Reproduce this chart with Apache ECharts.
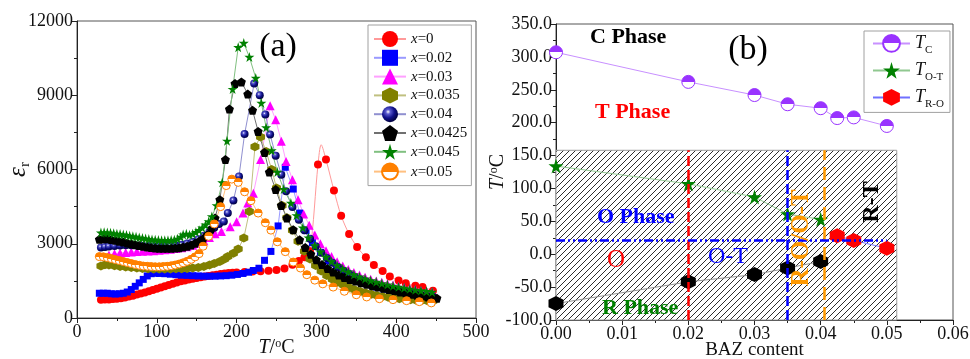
<!DOCTYPE html>
<html><head><meta charset="utf-8">
<script src="https://cdn.jsdelivr.net/npm/echarts@6/dist/echarts.min.js"></script>
<style>html,body{margin:0;padding:0;background:#fff}#c{width:970px;height:359px}</style>
</head><body><div id="c"></div>
<script>
const FONT = '"Liberation Serif","Times New Roman",serif';

// ---------- Panel (a): eps_r vs T (°C) ----------
const namesA = ['x=0','x=0.02','x=0.03','x=0.035','x=0.04','x=0.0425','x=0.045','x=0.05'];
const xTicksA = [0,100,200,300,400,500];
const yTicksA = [0,3000,6000,9000,12000];

const eps_x0 = [[30,740],[35,745],[40,750],[45,765],[50,780],[55,800],[60,830],[65,865],[70,900],[75,945],[80,990],[85,1035],[90,1080],[95,1130],[100,1180],[105,1230],[110,1280],[115,1330],[120,1380],[125,1430],[130,1480],[135,1520],[140,1560],[145,1590],[150,1620],[155,1650],[160,1680],[165,1700],[170,1730],[175,1750],[180,1780],[185,1800],[190,1820],[195,1830],[200,1840],[210,1860],[220,1880],[230,1890],[240,1910],[250,1940],[260,2000],[270,2150],[278,2300],[285,2450],[292,2700],[302,6200],{value:[306,7000],symbol:'none'},[312,6400],[322,5150],[331,4130],[341,3390],[351,2870],[362,2450],[372,2140],[383,1900],[392,1680],[403,1520],[412,1400],[424,1300],[433,1250],[446,1100]];
const eps_x002 = [[28,1000],[33,1000],[38,1000],[43,980],[48,970],[53,980],[58,1000],[63,1050],[68,1150],[73,1280],[78,1420],[83,1560],[88,1700],[93,1790],[98,1810],[103,1800],[110,1790],[117,1770],[124,1750],[131,1730],[138,1720],[145,1710],[152,1700],[159,1690],[166,1690],[173,1690],[180,1700],[187,1710],[194,1730],[201,1760],[208,1800],[215,1850],[221,1920],[228,2010],[235,2330],[243,2690],[252,3720],[261,6090],[271,5210],[279,4240],[287,3530],[295,3050],[305,2650],[315,2300],[325,2050],[335,1820],[345,1640],[355,1490],[365,1360],[375,1250],[385,1160],[395,1080],[405,1020],[415,970],[425,920],[435,880],[445,850]];
const eps_x003 = [[40,2550],[47,2600],[54,2630],[61,2650],[68,2670],[75,2690],[82,2700],[89,2710],[96,2720],[103,2740],[110,2760],[117,2780],[124,2810],[131,2840],[138,2880],[145,2940],[152,3020],[159,3120],[166,3250],[173,3400],[181,3500],[192,3690],[200,3890],[208,4240],[214,4650],[221,5040],[230,6400],[242,8580],[249,8010],[256,7140],[262,6320],[270,5590],[277,4780],[284,4200],[291,3750],[298,3350],[305,3000],[312,2720],[319,2480],[326,2270],[333,2100],[340,1960],[347,1840],[354,1740],[361,1650],[368,1570],[375,1500],[382,1440],[389,1380],[396,1330],[403,1280],[410,1230],[417,1190],[424,1150],[431,1110],[438,1080],[445,1050]];
const eps_x0035 = [[30,2100],[35,2150],[40,2140],[47,2110],[54,2080],[61,2060],[68,2040],[75,2020],[82,2000],[89,1990],[96,1980],[103,1980],[110,1980],[117,1980],[124,1985],[131,1990],[138,2000],[145,2020],[152,2040],[159,2080],[166,2140],[172,2200],[179,2280],[185,2380],[189,2480],[196,2620],[202,2790],[209,3230],[216,4300],[223,6920],[230,7310],[237,6730],[244,6000],[250,5250],[257,4550],[263,4050],[270,3550],[277,3100],[285,2700],[292,2380],[299,2120],[306,1900],[313,1720],[320,1570],[327,1440],[334,1330],[341,1230],[348,1140],[355,1070],[362,1010],[369,960],[376,910],[383,870],[390,840],[397,810],[404,780],[411,760],[418,740],[425,720],[432,710],[439,700],[446,690]];
const eps_x004 = [[30,2850],[35,2870],[40,2890],[47,2910],[54,2930],[61,2940],[68,2940],[75,2930],[82,2920],[89,2910],[96,2900],[103,2890],[110,2890],[117,2900],[124,2920],[131,2960],[138,3010],[145,3080],[152,3180],[159,3320],[166,3480],[172,3650],[178,3800],[184,3900],[189,4240],[196,4750],[203,5720],[210,7430],[222,9470],[229,9000],[236,8220],[242,7410],[249,6560],[256,5790],[262,5120],[270,4480],[278,3970],[285,3550],[292,3200],[299,2900],[306,2640],[313,2420],[320,2230],[327,2060],[334,1910],[341,1780],[348,1660],[355,1560],[362,1470],[369,1390],[376,1320],[383,1250],[390,1190],[397,1130],[404,1080],[411,1030],[418,990],[425,950],[432,910],[439,880],[446,850]];
const eps_x00425 = [[28,3180],[33,3200],[38,3200],[43,3170],[48,3140],[53,3100],[58,3070],[63,3030],[68,3000],[73,2960],[78,2930],[83,2900],[88,2870],[93,2850],[98,2830],[103,2820],[108,2820],[113,2820],[118,2820],[123,2830],[128,2840],[133,2870],[138,2900],[143,2950],[148,3020],[153,3100],[158,3200],[163,3350],[168,3600],[173,4040],[179,4780],[186,6400],[191,8440],[198,9470],[206,9540],[214,9050],[220,8390],[227,7540],[235,6690],[241,5900],[249,5190],[256,4550],[263,4040],[271,3570],[279,3160],[286,2850],[293,2580],[300,2350],[307,2160],[314,2000],[321,1860],[328,1740],[335,1640],[342,1560],[349,1490],[356,1420],[363,1360],[370,1300],[377,1250],[384,1200],[391,1150],[398,1100],[405,1050],[412,1000],[419,960],[426,920],[433,885],[440,850],[447,820],[451,800]];
const eps_x0045 = [[30,3450],[34,3460],[38,3450],[42,3440],[46,3420],[50,3400],[54,3390],[58,3370],[62,3350],[66,3320],[70,3300],[74,3280],[78,3250],[82,3230],[86,3210],[90,3190],[94,3170],[98,3160],[102,3150],[106,3140],[110,3140],[114,3140],[118,3150],[122,3160],[126,3200],[130,3280],[133,3370],[137,3400],[141,3360],[145,3400],[149,3470],[153,3550],[157,3650],[161,3770],[165,3900],[169,4100],[175,4550],[182,5480],[188,7160],[195,9250],[202,10940],[209,11110],[216,10545],[224,9700],[231,8690],[237,7700],[244,6770],[251,5900],[259,5210],[268,4650],[275,4150],[283,3650],[290,3250],[298,2930],[305,2680],[312,2470],[319,2290],[326,2130],[333,1990],[340,1870],[347,1760],[354,1670],[361,1590],[368,1520],[375,1460],[382,1400],[389,1350],[396,1300],[403,1260],[410,1220],[417,1180],[424,1140],[431,1110],[438,1080],[445,1050]];
const eps_x005 = [[28,2480],[33,2470],[38,2440],[43,2400],[48,2360],[53,2320],[58,2280],[63,2240],[68,2200],[73,2160],[78,2130],[83,2100],[88,2090],[93,2080],[98,2070],[103,2070],[108,2080],[113,2090],[118,2110],[123,2140],[128,2180],[133,2230],[138,2290],[143,2370],[148,2470],[153,2600],[158,2900],[165,3300],[172,3800],[180,4500],[187,5350],[194,5610],[202,5480],[210,5100],[218,4740],[227,4240],[236,3850],[243,3550],[251,3080],[261,2680],[271,2260],[280,2020],[288,1750],[298,1530],[308,1380],[321,1250],[335,1080],[350,940],[363,850],[379,780],[396,740],[413,700],[429,660],[444,610]];

// ---------- Panel (b): phase diagram ----------
const bazTc = [0,0.02,0.03,0.035,0.04,0.0425,0.045,0.05];
const tC = [307,262,242,228,222,207,208,195];
const bazOT = [0,0.02,0.03,0.035,0.04];
const tOT = [134,107,87,61,53];
const bazRO = [0.0425,0.045,0.05];
const tRO = [28,21,9];
const bazRlow = [0,0.02,0.03,0.035,0.04];
const tRlow = [-75,-42,-31,-21,-11];
const boundaryX = [0.02,0.035,0.0405];
const hatchX = [0,0.0515];
const hatchY = [-100,158];
const roomT = 22;
const roomX = [0,0.05];
const xTicksB = [0,0.01,0.02,0.03,0.04,0.05,0.06];
const yTicksB = [-100,-50,0,50,100,150,200,250,300,350];

function zip(xs, ys){ return xs.map((x,i)=>[x, ys[i]]); }

const STAR = 'path://M50,0 L61,35 L98,35 L68,57 L79,91 L50,70 L21,91 L32,57 L2,35 L39,35 Z';
const PENT = 'path://M50,0 L100,38 L81,100 L19,100 L0,38 Z';
const HEX = 'path://M50,0 L93,25 L93,75 L50,100 L7,75 L7,25 Z';
function half(col){ return {type:'linear',x:0,y:0,x2:0,y2:1,colorStops:[{offset:0,color:col},{offset:0.5,color:col},{offset:0.5,color:'#fff'},{offset:1,color:'#fff'}]}; }
const SPHERE = {type:'radial',x:0.38,y:0.35,r:0.65,colorStops:[{offset:0,color:'#ffffff'},{offset:0.22,color:'#5a5ad0'},{offset:0.6,color:'#10108a'},{offset:1,color:'#000040'}]};

function hatchCanvas(){
  const s = 6, c = document.createElement('canvas'); c.width = s; c.height = s;
  const g = c.getContext('2d');
  g.fillStyle = '#fff'; g.fillRect(0,0,s,s);
  g.strokeStyle = '#222'; g.lineWidth = 0.95;
  g.beginPath();
  g.moveTo(-1, s+1); g.lineTo(s+1, -1);
  g.moveTo(-1, 1); g.lineTo(1, -1);
  g.moveTo(s-1, s+1); g.lineTo(s+1, s-1);
  g.stroke();
  return c;
}

const stylesA = [
  {sym:'circle', size:8, color:'#ff0000', line:'#ff9a9a'},
  {sym:'rect', size:7, color:'#0000ff', line:'#9a9aff'},
  {sym:'triangle', size:9, color:'#ff00ff', line:'#ffa0ff'},
  {sym:HEX, size:9, color:'#808000', line:'#c0c080'},
  {sym:'circle', size:8, color:SPHERE, line:'#9090d0'},
  {sym:PENT, size:9, color:'#000000', line:'#707070'},
  {sym:STAR, size:10, color:'#008000', line:'#80c080'},
  {sym:'circle', size:8, color:half('#ff8000'), line:'#ffc080', border:'#ff8000'}
];
const dataA = [eps_x0, eps_x002, eps_x003, eps_x0035, eps_x004, eps_x00425, eps_x0045, eps_x005];

const seriesA = namesA.map((n,i)=>({
  name:n, type:'line', xAxisIndex:0, yAxisIndex:0, data:dataA[i],
  symbol:stylesA[i].sym, symbolSize:stylesA[i].size, smooth: i===0 ? 0.3 : false,
  itemStyle:{color:stylesA[i].color, borderColor:stylesA[i].border || null, borderWidth: stylesA[i].border ? 1 : 0},
  lineStyle:{color:stylesA[i].line, width:1}, z:3
}));

const hatch = hatchCanvas();
const seriesB = [
  { name:'hatch', type:'line', xAxisIndex:1, yAxisIndex:1, data:[], z:1, silent:true,
    markArea:{ silent:true, itemStyle:{color:{image:hatch, repeat:'repeat'}, borderColor:'#9a9a9a', borderWidth:1},
      data:[[{coord:[hatchX[0],hatchY[0]]},{coord:[hatchX[1],hatchY[1]]}]] },
    markLine:{ silent:true, symbol:['none','none'], label:{show:false}, animation:false,
      data:[
        [{coord:[boundaryX[0],hatchY[0]], lineStyle:{color:'#ff0000', width:2.5, type:[10,4]}},{coord:[boundaryX[0],hatchY[1]]}],
        [{coord:[boundaryX[1],hatchY[0]], lineStyle:{color:'#0000ff', width:2.5, type:[10,4]}},{coord:[boundaryX[1],hatchY[1]]}],
        [{coord:[boundaryX[2],hatchY[0]], lineStyle:{color:'#ff9900', width:2.5, type:[13,7]}},{coord:[boundaryX[2],hatchY[1]]}],
        [{coord:[roomX[0],roomT], lineStyle:{color:'#0000ff', width:2.5, type:[9,3,2,3,2,3]}},{coord:[roomX[1],roomT]}]
      ] } },
  { name:'T_C', type:'line', xAxisIndex:1, yAxisIndex:1, data:zip(bazTc,tC), symbol:'circle', symbolSize:13, z:4,
    itemStyle:{color:half('#9933ff'), borderColor:'#9933ff', borderWidth:1}, lineStyle:{color:'#c890ff', width:1} },
  { name:'T_O-T', type:'line', xAxisIndex:1, yAxisIndex:1, data:zip(bazOT,tOT), symbol:STAR, symbolSize:15, z:4,
    itemStyle:{color:'#008000'}, lineStyle:{color:'#90c890', width:1} },
  { name:'T_R-O', type:'line', xAxisIndex:1, yAxisIndex:1, data:zip(bazRO,tRO), symbol:HEX, symbolSize:15, z:4,
    itemStyle:{color:'#ff0000'}, lineStyle:{color:'#7070ff', width:1} },
  { name:'T_R-O low', type:'line', xAxisIndex:1, yAxisIndex:1, data:zip(bazRlow,tRlow), symbol:HEX, symbolSize:15, z:4,
    itemStyle:{color:'#000000'}, lineStyle:{color:'#909090', width:1} }
];

const axisCommon = {
  axisLine:{show:true, onZero:false, lineStyle:{color:'#222', width:1}},
  axisTick:{show:true, length:5, lineStyle:{color:'#222'}},
  minorTick:{show:true, splitNumber:2, length:3, lineStyle:{color:'#222'}},
  splitLine:{show:false},
  nameMoveOverlap:false,
  axisLabel:{fontFamily:FONT, fontSize:18, color:'#111'}
};
const nameRich = {
  i:{fontFamily:FONT, fontSize:20, fontStyle:'italic', color:'#111', lineHeight:20, verticalAlign:'top'},
  n:{fontFamily:FONT, fontSize:20, color:'#111', lineHeight:20, verticalAlign:'top'},
  o:{fontFamily:FONT, fontSize:12, color:'#111', lineHeight:12, verticalAlign:'top'},
  e:{fontFamily:FONT, fontSize:25, fontStyle:'italic', color:'#111', lineHeight:25, verticalAlign:'top'},
  s:{fontFamily:FONT, fontSize:15, color:'#111', lineHeight:15, padding:[12,0,0,0], verticalAlign:'top'}
};
const TdegC = '{i|T}{n|/}{o|o}{n|C}';

const option = {
  animation:false,
  backgroundColor:'#fff',
  grid:[
    {left:77, top:21, width:399, height:297, show:true, borderColor:'#555', borderWidth:1, containLabel:false, outerBoundsMode:'none'},
    {left:556, top:24, width:397, height:296, show:true, borderColor:'#555', borderWidth:1, containLabel:false, outerBoundsMode:'none'}
  ],
  xAxis:[
    Object.assign({}, axisCommon, {type:'value', gridIndex:0, min:xTicksA[0], max:xTicksA[xTicksA.length-1], interval:100,
      axisLabel:Object.assign({}, axisCommon.axisLabel, {margin:5, formatter:v=>String(v)}),
      name:TdegC, nameLocation:'middle', nameGap:20, nameTextStyle:{rich:nameRich}}),
    Object.assign({}, axisCommon, {type:'value', gridIndex:1, min:xTicksB[0], max:xTicksB[xTicksB.length-1], interval:0.01,
      axisLabel:Object.assign({}, axisCommon.axisLabel, {margin:5, formatter:v=>v.toFixed(2)}),
      name:'BAZ content', nameLocation:'middle', nameGap:21, nameTextStyle:{fontFamily:FONT, fontSize:19, color:'#111'}})
  ],
  yAxis:[
    Object.assign({}, axisCommon, {type:'value', gridIndex:0, min:yTicksA[0], max:yTicksA[yTicksA.length-1], interval:3000,
      axisLabel:Object.assign({}, axisCommon.axisLabel, {margin:4, formatter:v=>String(v)}),
      name:'{e|ε}{s|r}', nameLocation:'middle', nameGap:46, nameTextStyle:{rich:nameRich}}),
    Object.assign({}, axisCommon, {type:'value', gridIndex:1, min:yTicksB[0], max:yTicksB[yTicksB.length-1], interval:50,
      axisLabel:Object.assign({}, axisCommon.axisLabel, {margin:4, formatter:v=>v.toFixed(1)}),
      name:TdegC, nameLocation:'middle', nameGap:48, nameTextStyle:{rich:nameRich}})
  ],
  legend:[
    { data:namesA, orient:'vertical', left:368, top:25, itemWidth:32, itemHeight:20, itemGap:2.8,
      padding:[6,4,5,5], borderColor:'#a0a0a0', borderWidth:1, backgroundColor:'#fff',
      formatter:n=>'{i|x}{n|'+n.slice(1)+'}',
      textStyle:{fontFamily:FONT, fontSize:15, color:'#111', lineHeight:16,
        rich:{i:{fontFamily:FONT, fontSize:15, fontStyle:'italic', lineHeight:16}, n:{fontFamily:FONT, fontSize:15, lineHeight:16}}} },
    { data:['T_C','T_O-T','T_R-O'], orient:'vertical', left:864, top:31, itemWidth:37, itemHeight:21, itemGap:6,
      padding:[3,6,3,8], borderColor:'#a0a0a0', borderWidth:1, backgroundColor:'#fff',
      formatter:n=>'{t|T}{s|'+n.slice(2)+'}',
      textStyle:{fontFamily:FONT, fontSize:18, color:'#111',
        rich:{t:{fontFamily:FONT, fontSize:18, fontStyle:'italic', lineHeight:18, verticalAlign:'top'},
              s:{fontFamily:FONT, fontSize:11, lineHeight:11, padding:[10,0,0,0], verticalAlign:'top'}}} }
  ],
  graphic:[
    {type:'text', x:278, y:47, style:{text:'(a)', fontFamily:FONT, fontSize:34, fill:'#000', align:'center', verticalAlign:'middle'}},
    {type:'text', x:748, y:50, style:{text:'(b)', fontFamily:FONT, fontSize:34, fill:'#000', align:'center', verticalAlign:'middle'}},
    {type:'text', x:590, y:37, style:{text:'C Phase', fontFamily:FONT, fontSize:22, fontWeight:'bold', fill:'#000', align:'left', verticalAlign:'middle'}},
    {type:'text', x:595, y:112, style:{text:'T Phase', fontFamily:FONT, fontSize:22, fontWeight:'bold', fill:'#ff0000', align:'left', verticalAlign:'middle'}},
    {type:'text', x:597, y:217, z:10, style:{text:'O Phase', fontFamily:FONT, fontSize:22, fontWeight:'bold', fill:'#0000ff', align:'left', verticalAlign:'middle'}},
    {type:'text', x:616, y:260, z:10, style:{text:'O', fontFamily:FONT, fontSize:25, fill:'#ff0000', align:'center', verticalAlign:'middle'}},
    {type:'text', x:708, y:257, z:10, style:{text:'O-T', fontFamily:FONT, fontSize:24, fill:'#0000ff', align:'left', verticalAlign:'middle'}},
    {type:'text', x:602, y:308, z:10, style:{text:'R Phase', fontFamily:FONT, fontSize:22, fontWeight:'bold', fill:'#008000', align:'left', verticalAlign:'middle'}},
    {type:'text', x:802, y:238, rotation:Math.PI/2, z:10, style:{text:'R-O/O-T', fontFamily:FONT, fontSize:25, fontWeight:'bold', fill:'#ff9900', align:'center', verticalAlign:'middle'}},
    {type:'text', x:872, y:202, rotation:Math.PI/2, z:10, style:{text:'R-T', fontFamily:FONT, fontSize:24, fontWeight:'bold', fill:'#000', align:'center', verticalAlign:'middle'}}
  ],
  series: seriesA.concat(seriesB)
};

const chart = echarts.init(document.getElementById('c'), null, {renderer:'canvas'});
chart.setOption(option);
</script>
</body></html>
